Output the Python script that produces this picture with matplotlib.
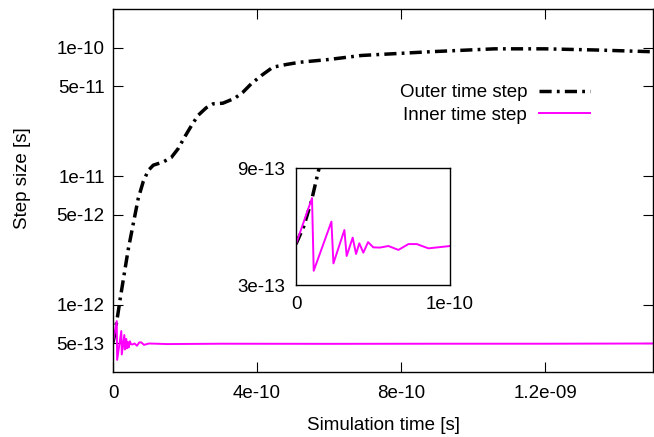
import matplotlib
matplotlib.use('Agg')
import matplotlib.pyplot as plt
import numpy as np

plt.rcParams['font.family'] = ['Liberation Sans', 'DejaVu Sans']

# Outer time step
outer_t = [0, 5e-12, 1.0e-11, 1.5e-11, 1.94e-11, 3.0e-11, 4.2e-11, 5.5e-11, 7.0e-11,
           8.4e-11, 9.8e-11, 1.12e-10, 1.39e-10, 1.62e-10, 1.81e-10, 1.99e-10,
           2.18e-10, 2.36e-10, 2.59e-10, 2.78e-10, 3.05e-10, 3.38e-10, 3.61e-10,
           3.84e-10, 4.12e-10, 4.44e-10, 4.81e-10, 5.18e-10, 6.0e-10, 6.9e-10,
           8.8e-10, 1.06e-09, 1.2e-09, 1.34e-09, 1.5e-09]
outer_dt = [5.1e-13, 6.0e-13, 7.3e-13, 9.0e-13, 1.09e-12, 1.66e-12, 2.67e-12, 4.1e-12, 6.7e-12,
            9.1e-12, 1.11e-11, 1.22e-11, 1.29e-11, 1.40e-11, 1.64e-11, 2.02e-11,
            2.48e-11, 2.97e-11, 3.41e-11, 3.66e-11, 3.70e-11, 4.04e-11, 4.51e-11,
            5.24e-11, 6.07e-11, 7.05e-11, 7.4e-11, 7.7e-11, 8.1e-11, 8.7e-11,
            9.3e-11, 9.8e-11, 9.8e-11, 9.6e-11, 9.3e-11]

# Inner time step
inner_t = [0, 1.04e-11, 1.15e-11, 2.3e-11, 2.43e-11, 3.14e-11, 3.29e-11, 3.68e-11,
           3.9e-11, 4.11e-11, 4.37e-11, 4.68e-11, 5.02e-11, 5.45e-11, 6.0e-11,
           6.65e-11, 7.3e-11, 7.84e-11, 8.6e-11, 1.0e-10, 1.5e-10, 3e-10, 6e-10,
           9e-10, 1.2e-09, 1.5e-09]
inner_dt = [5.1e-13, 7.46e-13, 3.73e-13, 6.25e-13, 4.11e-13, 5.82e-13, 4.49e-13, 5.43e-13,
            4.59e-13, 5.14e-13, 4.66e-13, 5.2e-13, 4.93e-13, 4.92e-13, 5.0e-13,
            4.8e-13, 5.1e-13, 5.1e-13, 4.88e-13, 5.0e-13, 4.95e-13, 4.98e-13, 4.97e-13,
            4.98e-13, 4.98e-13, 5.0e-13]

dashdot = (0, (3.5, 1.5, 0.8, 1.5))
magenta = '#ff00ff'
fs = 13.5

fig = plt.figure(figsize=(6.54, 4.37), dpi=100)
ax = fig.add_axes([0.1728, 0.1487, 0.8257, 0.8307])
ax.plot(outer_t, outer_dt, color='black', lw=2.5, ls=dashdot, label='Outer time step')
ax.plot(inner_t, inner_dt, color=magenta, lw=1.4, label='Inner time step')
ax.set_yscale('log')
ax.set_xlim(0, 1.5e-9)
ax.set_ylim(3e-13, 2e-10)

yt = [5e-13, 1e-12, 5e-12, 1e-11, 5e-11, 1e-10]
ax.set_yticks(yt)
ax.set_yticklabels(['5e-13', '1e-12', '5e-12', '1e-11', '5e-11', '1e-10'])
ax.yaxis.set_minor_locator(matplotlib.ticker.NullLocator())
xt = [0, 4e-10, 8e-10, 1.2e-9]
ax.set_xticks(xt)
ax.set_xticklabels(['0', '4e-10', '8e-10', '1.2e-09'])
ax.tick_params(direction='in', length=7, width=0.8, top=True, right=True,
               labelsize=fs)
ax.tick_params(axis='y', pad=6)
ax.tick_params(axis='x', pad=9)
for s in ax.spines.values():
    s.set_linewidth(1.0)

ax.set_xlabel('Simulation time [s]', fontsize=fs)
ax.set_ylabel('Step size [s]', fontsize=fs)
ax.yaxis.set_label_coords(-0.152, 0.534)
ax.xaxis.set_label_coords(0.5, -0.125)

ax.legend(loc='center right', bbox_to_anchor=(0.883, 0.738), frameon=False,
          markerfirst=False, fontsize=fs, handlelength=2.7, handletextpad=0.65,
          borderpad=0, borderaxespad=0, labelspacing=0.3)

# inset
ins = fig.add_axes([0.4526, 0.3478, 0.2355, 0.2677])
ins.plot(outer_t, outer_dt, color='black', lw=2.5, ls=dashdot)
ins.plot(inner_t, inner_dt, color=magenta, lw=1.4)
ins.set_xlim(0, 1e-10)
ins.set_ylim(3e-13, 9e-13)
ins.set_xticks([0, 1e-10])
ins.set_xticklabels(['0', '1e-10'])
ins.set_yticks([3e-13, 9e-13])
ins.set_yticklabels(['3e-13', '9e-13'])
ins.tick_params(length=0, labelsize=fs, pad=8)
for s in ins.spines.values():
    s.set_linewidth(1.0)

fig.savefig('out.png', dpi=100)
